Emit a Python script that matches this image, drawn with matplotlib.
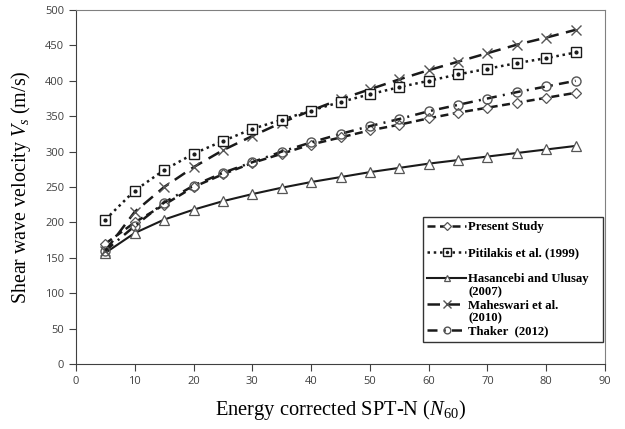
import matplotlib
matplotlib.use("Agg")
import matplotlib.pyplot as plt
from matplotlib.lines import Line2D

plt.rcParams['mathtext.fontset'] = 'custom'
plt.rcParams['mathtext.rm'] = 'Liberation Serif'
plt.rcParams['mathtext.it'] = 'Liberation Serif:italic'

N = [5, 10, 15, 20, 25, 30, 35, 40, 45, 50, 55, 60, 65, 70, 75, 80, 85]
present = [170, 200, 225, 250, 268, 284, 297, 310, 320, 330, 338, 347, 355, 362, 369, 376, 383]
pitilakis = [204, 245, 274, 297, 315, 332, 345, 358, 370, 381, 391, 400, 409, 417, 425, 432, 440]
hasancebi = [157, 185, 204, 218, 230, 240, 249, 257, 264, 271, 277, 283, 288, 293, 298, 303, 308]
maheswari = [160, 215, 250, 278, 302, 322, 341, 358, 374, 388, 402, 415, 427, 439, 451, 461, 472]
thaker = [160, 195, 228, 252, 270, 285, 300, 313, 325, 336, 346, 357, 366, 375, 384, 392, 400]

labels = ["Present Study", "Pitilakis et al. (1999)", "Hasancebi and Ulusay", "(2007)",
          "Maheswari et al.", "(2010)", "Thaker  (2012)"]

fig = plt.figure(figsize=(6.25, 4.29), dpi=100)
ax = fig.add_axes([76/625, 1-364/429, 529/625, 354/429])

lc = '#1a1a1a'
mc = '#555555'
l1, = ax.plot(N, present, color=lc, lw=1.8, dashes=(3.2, 1.8), marker='D', ms=5,
              mfc='white', mec=mc, mew=0.9, zorder=3)
l2, = ax.plot(N, pitilakis, color=lc, lw=1.8, dashes=(1, 1.5), marker='s', ms=7.5,
              mfc='white', mec=lc, mew=1.0, zorder=4)
d2, = ax.plot(N, pitilakis, ls='none', marker='o', ms=2, color=lc, zorder=5)
l3, = ax.plot(N, hasancebi, color=lc, lw=1.5, ls='-', marker='^', ms=6.5,
              mfc='white', mec=mc, mew=0.9, zorder=3)
l4, = ax.plot(N, maheswari, color=lc, lw=1.8, dashes=(5, 3), marker='x', ms=7.5,
              mec=mc, mew=1.0, zorder=3)
l5, = ax.plot(N, thaker, color=lc, lw=1.8, dashes=(4, 2.5, 0.8, 2.5), marker='o', ms=6.5,
              mfc='none', mec=mc, mew=1.0, zorder=3)

ax.set_xlim(0, 90)
ax.set_ylim(0, 500)
ax.set_xticks(range(0, 91, 10))
ax.set_yticks(range(0, 501, 50))
ax.tick_params(labelsize=8, labelcolor='#404040', color='#404040', length=5, width=0.8)
for lab in ax.get_xticklabels() + ax.get_yticklabels():
    lab.set_family('Open Sans')
for s in ['top', 'right']:
    ax.spines[s].set_color('#808080')
for s in ['left', 'bottom']:
    ax.spines[s].set_color('#404040')

ax.set_ylabel(r"Shear wave velocity $V_{s}$ (m/s)", family='Liberation Serif', fontsize=14.4, labelpad=9)
ax.set_xlabel(r"Energy corrected SPT-N ($N_{\mathrm{60}}$)", family='Liberation Serif', fontsize=14.8, labelpad=8)

blank = Line2D([], [], color='none')
handles = [l1, blank, (l2, d2), blank, l3, blank, l4, blank, l5]
leg_labels = [labels[0], " ", labels[1], " ", labels[2], labels[3], labels[4], labels[5], labels[6]]
leg = ax.legend(handles, leg_labels, loc='lower left',
                bbox_to_anchor=(0.656, 0.062, 0.340, 0.35), mode='expand', borderaxespad=0,
                prop={'family': 'Liberation Serif', 'weight': 'bold', 'size': 9.2},
                frameon=True, fancybox=False, edgecolor='black', handlelength=3.0,
                labelspacing=0.08, borderpad=0.35, handletextpad=0.2, markerscale=0.75)
leg.get_frame().set_linewidth(1.0)

fig.savefig("out.png", dpi=100)
